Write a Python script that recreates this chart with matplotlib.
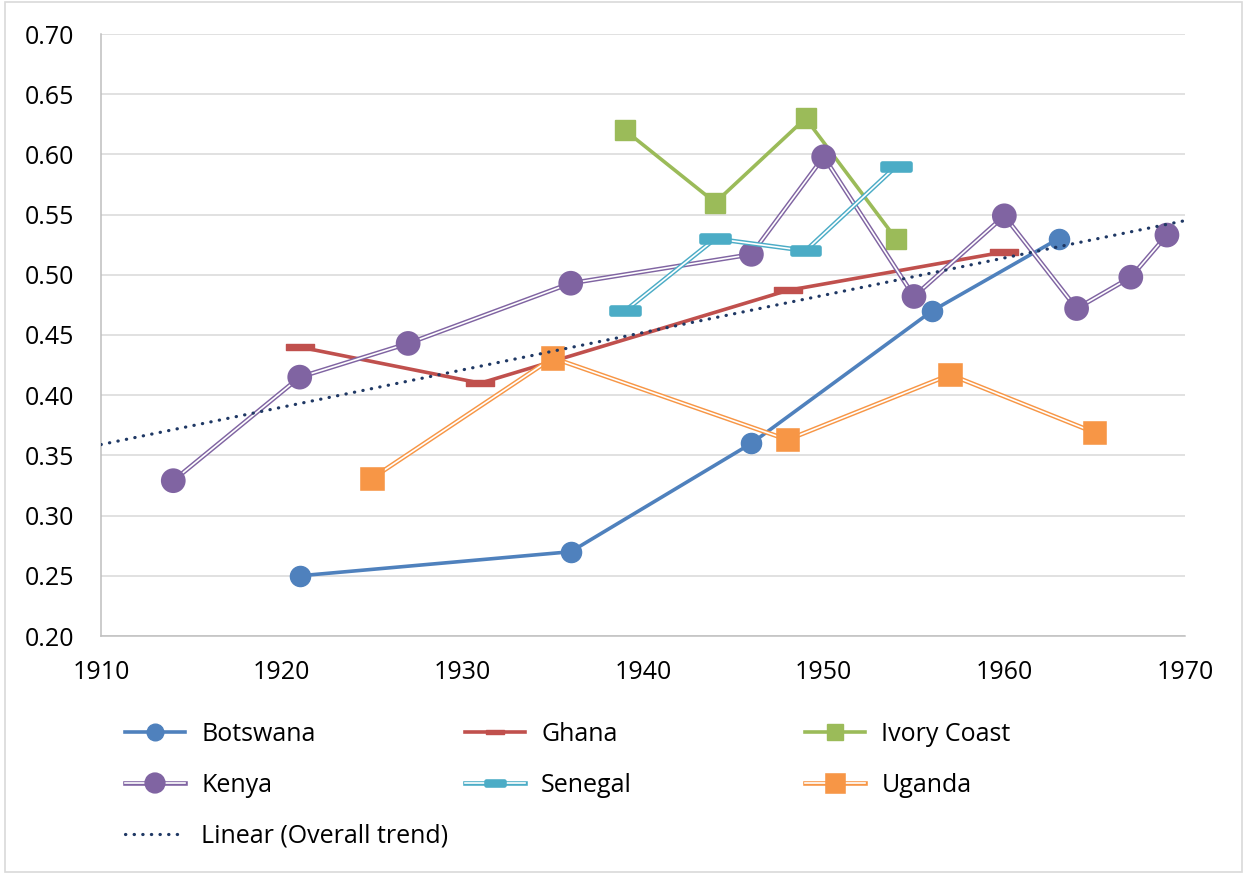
import matplotlib
matplotlib.use('Agg')
import matplotlib.pyplot as plt
import matplotlib.patheffects as pe
from matplotlib.lines import Line2D
from matplotlib.path import Path
from matplotlib.patches import Rectangle

plt.rcParams['font.family'] = ['Open Sans', 'DejaVu Sans']

# data
botswana_x = [1921, 1936, 1946, 1956, 1963]
botswana_y = [0.250, 0.270, 0.360, 0.470, 0.530]
ghana_x = [1921, 1931, 1948, 1960]
ghana_y = [0.440, 0.410, 0.487, 0.519]
ivory_x = [1939, 1944, 1949, 1954]
ivory_y = [0.620, 0.560, 0.630, 0.530]
kenya_x = [1914, 1921, 1927, 1936, 1946, 1950, 1955, 1960, 1964, 1967, 1969]
kenya_y = [0.329, 0.415, 0.443, 0.493, 0.517, 0.598, 0.482, 0.549, 0.472, 0.498, 0.533]
senegal_x = [1939, 1944, 1949, 1954]
senegal_y = [0.470, 0.530, 0.520, 0.590]
uganda_x = [1925, 1935, 1948, 1957, 1965]
uganda_y = [0.331, 0.431, 0.363, 0.417, 0.369]
trend_x = [1910, 1970]
trend_y = [0.359, 0.545]

y_ticks = [0.20, 0.25, 0.30, 0.35, 0.40, 0.45, 0.50, 0.55, 0.60, 0.65, 0.70]
x_ticks = [1910, 1920, 1930, 1940, 1950, 1960, 1970]

blue = '#4F81BD'
red = '#C0504D'
green = '#9BBB59'
purple = '#8064A2'
cyan = '#4BACC6'
orange = '#F79646'
navy = '#1F3864'

dash = Path([(-1, -0.25), (1, -0.25), (1, 0.25), (-1, 0.25), (-1, -0.25)],
            [Path.MOVETO, Path.LINETO, Path.LINETO, Path.LINETO, Path.CLOSEPOLY])
dotted = (0, (0.1, 2.6))


def double(c, w=3.3):
    return [pe.Stroke(linewidth=w, foreground=c), pe.Normal()]


W, H = 1243, 875
fig = plt.figure(figsize=(W / 100, H / 100), dpi=100)
ax = fig.add_axes([101 / W, 1 - 636 / H, (1185 - 101) / W, (636 - 34) / H])

ax.plot(botswana_x, botswana_y, color=blue, lw=2.6, marker='o', ms=14.5,
        mfc=blue, mec=blue, zorder=3)
ax.plot(ghana_x, ghana_y, color=red, lw=2.6, marker=dash, ms=20,
        mfc=red, mec=red, zorder=3)
ax.plot(ivory_x, ivory_y, color=green, lw=2.6, marker='s', ms=14,
        mfc=green, mec=green, zorder=3)
ax.plot(kenya_x, kenya_y, color='white', lw=1.2, marker='o', ms=14.5,
        mfc=purple, mec=purple, path_effects=double(purple), zorder=3)
ax.plot(senegal_x, senegal_y, color='white', lw=1.2, marker=dash, ms=20,
        mfc=cyan, mec=cyan, path_effects=double(cyan), zorder=3)
ax.plot(uganda_x, uganda_y, color='white', lw=1.2, marker='s', ms=14,
        mfc=orange, mec=orange, path_effects=double(orange), zorder=3)
ax.plot(trend_x, trend_y, color=navy, lw=2.3, linestyle=dotted,
        dash_capstyle='round', zorder=4)

ax.set_xlim(1910, 1970)
ax.set_ylim(0.20, 0.70)
ax.set_xticks(x_ticks)
ax.set_xticklabels([str(v) for v in x_ticks])
ax.set_yticks(y_ticks)
ax.set_yticklabels(['%.2f' % v for v in y_ticks])
ax.tick_params(axis='both', length=0, labelsize=18, colors='#000000')
ax.tick_params(axis='y', pad=19)
ax.tick_params(axis='x', pad=17)
ax.grid(axis='y', color='#D9D9D9', lw=1.1)
ax.set_axisbelow(True)
for s in ['top', 'right']:
    ax.spines[s].set_visible(False)
for s in ['left', 'bottom']:
    ax.spines[s].set_color('#BFBFBF')
    ax.spines[s].set_linewidth(1.1)

# legend proxies (smaller markers, like the original)
h_bots = Line2D([], [], color=blue, lw=2.6, marker='o', ms=12, mfc=blue, mec=blue)
h_ghana = Line2D([], [], color=red, lw=2.6, marker=dash, ms=13, mfc=red, mec=red)
h_ivory = Line2D([], [], color=green, lw=2.6, marker='s', ms=11, mfc=green, mec=green)
h_kenya = Line2D([], [], color='white', lw=1.2, marker='o', ms=12, mfc=purple,
                 mec=purple, path_effects=double(purple))
h_sen = Line2D([], [], color='white', lw=1.2, marker=dash, ms=13, mfc=cyan,
               mec=cyan, path_effects=double(cyan))
h_ug = Line2D([], [], color='white', lw=1.2, marker='s', ms=11, mfc=orange,
              mec=orange, path_effects=double(orange))
h_trend = Line2D([], [], color=navy, lw=2.3, linestyle=dotted,
                 dash_capstyle='round')

columns = [
    ([h_bots, h_kenya, h_trend], ['Botswana', 'Kenya', 'Linear (Overall trend)'], 125),
    ([h_ghana, h_sen], ['Ghana', 'Senegal'], 465),
    ([h_ivory, h_ug], ['Ivory Coast', 'Uganda'], 805),
]
for hs, labs, x0 in columns:
    fig.legend(hs, labs, loc='upper left', bbox_to_anchor=(x0 / W, 1 - 722 / H),
               frameon=False, fontsize=18, handlelength=2.4, handletextpad=0.65,
               labelspacing=1.03, borderpad=0, borderaxespad=0, numpoints=1)

fig.add_artist(Rectangle((5 / W, 3 / H), (1242 - 5) / W, (874 - 4) / H,
                         transform=fig.transFigure, fill=False,
                         edgecolor='#D9D9D9', lw=1.2))

fig.savefig('out.png', dpi=100)
